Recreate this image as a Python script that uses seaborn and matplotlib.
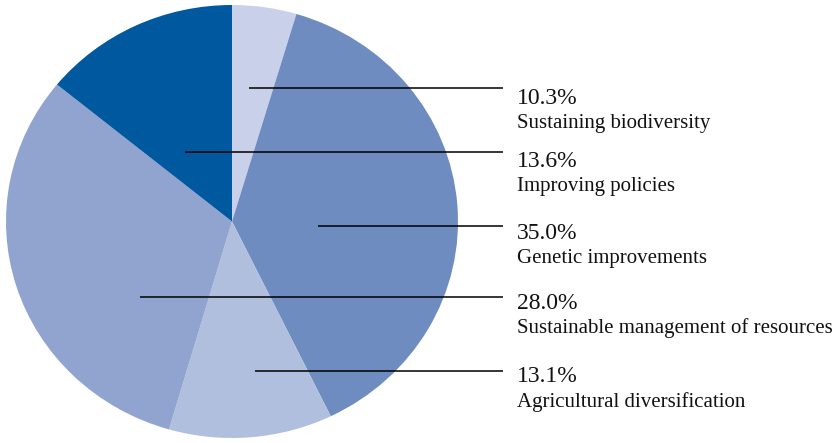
import matplotlib
matplotlib.use("Agg")
import matplotlib.pyplot as plt
import seaborn as sns

# ---- data ----
categories = ["Sustaining biodiversity", "Genetic improvements", "Agricultural diversification",
              "Sustainable management of resources", "Improving policies"]
# slice sizes as drawn in the picture (clockwise from 12 o'clock)
slice_share = [4.6, 38.2, 11.7, 31.4, 14.1]
slice_colors = ["#c8d0ea", "#6e8cc0", "#b1bfdf", "#90a4cf", "#00589f"]

# labels listed on the right (top to bottom)
label_pct = ["10.3%", "13.6%", "35.0%", "28.0%", "13.1%"]
label_names = ["Sustaining biodiversity", "Improving policies", "Genetic improvements",
               "Sustainable management of resources", "Agricultural diversification"]
leader_y = [88, 152, 226, 297, 371]
leader_x0 = [249, 185, 318, 140, 255]
pct_baseline = [104, 167, 239, 309, 382]
name_baseline = [128, 191, 263, 333, 407]

sns.set_theme(style="white")
plt.rcParams["font.family"] = ["Liberation Serif", "DejaVu Serif"]

W, H = 839, 443
fig = plt.figure(figsize=(W / 100, H / 100), dpi=100)
fig.patch.set_facecolor("white")

# pie axes (slightly elliptical as in reference)
cx0, cy0, cx1, cy1 = 6, 5, 458, 438
pax = fig.add_axes([cx0 / W, 1 - cy1 / H, (cx1 - cx0) / W, (cy1 - cy0) / H])
pax.pie(slice_share, colors=slice_colors, startangle=90, counterclock=False,
        radius=1, wedgeprops=dict(linewidth=0))
pax.set_aspect("auto")
pax.set_xlim(-1, 1)
pax.set_ylim(-1, 1)
pax.axis("off")

# overlay axes in pixel coordinates
ax = fig.add_axes([0, 0, 1, 1])
ax.set_xlim(0, W)
ax.set_ylim(H, 0)
ax.axis("off")
ax.patch.set_alpha(0)

for y, x0, pct, name, yb1, yb2 in zip(leader_y, leader_x0, label_pct, label_names,
                                      pct_baseline, name_baseline):
    ax.plot([x0, 503], [y, y], color="black", lw=1.1, solid_capstyle="butt")
    ax.text(517, yb1, pct, fontsize=17, va="baseline", ha="left", color="#111111")
    ax.text(517, yb2, name, fontsize=15, va="baseline", ha="left", color="#111111")

fig.savefig("out.png", dpi=100, facecolor="white")
